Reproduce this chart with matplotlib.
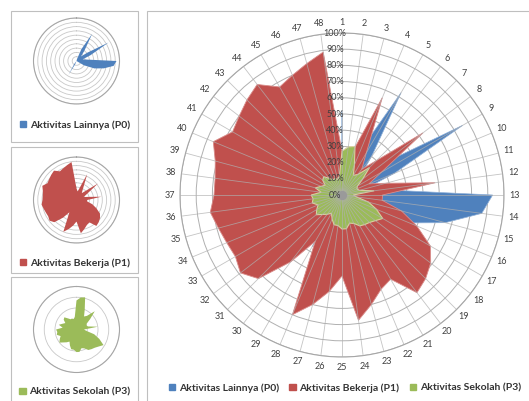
import numpy as np
import matplotlib
matplotlib.use("Agg")
import matplotlib.pyplot as plt
from matplotlib.patches import Patch, Rectangle

plt.rcParams['font.family'] = ['Lato', 'DejaVu Sans']

# 48 categories, values in percent
categories = [str(i) for i in range(1, 49)]

p0_lainnya = [52, 0, 5, 30, 73, 30, 15, 32, 86, 35, 15, 25,
              93, 87, 66, 45, 20, 0, 0, 0, 0, 0, 0, 0,
              0, 0, 0, 8, 37, 8, 0, 0, 0, 0, 0, 0,
              0, 0, 0, 0, 0, 0, 0, 0, 0, 0, 0, 0]

p1_bekerja = [27, 20, 30, 65, 30, 20, 30, 63, 28, 18, 28, 58,
              25, 25, 38, 50, 63, 69, 73, 76, 60, 63, 70, 78,
              50, 60, 70, 80, 33, 52, 73, 79, 76, 77, 79, 82,
              79, 79, 81, 86, 78, 80, 83, 86, 77, 80, 84, 89]

p3_sekolah = [27, 30, 31, 20, 14, 16, 24, 16, 11, 10, 11, 20,
              7, 9, 17, 23, 29, 26, 24, 23, 22, 19, 18, 21,
              21, 19, 19, 16, 13, 15, 17, 20, 18, 16, 19, 18,
              19, 13, 17, 14, 12, 15, 16, 13, 11, 11, 10, 12]

series_names = ['Aktivitas Lainnya (P0)', 'Aktivitas Bekerja (P1)', 'Aktivitas Sekolah (P3)']
series_colors = ['#4F81BD', '#C0504D', '#9BBB59']

W, H = 529, 401
fig = plt.figure(figsize=(W / 100, H / 100), dpi=100)
fig.patch.set_facecolor('white')


def fig_rect(cx, cy, r):
    """axes rect for a circle centred at pixel (cx, cy) with radius r"""
    return [(cx - r) / W, (H - cy - r) / H, 2 * r / W, 2 * r / H]


def box(x0, y0, x1, y1):
    fig.patches.append(Rectangle((x0 / W, 1 - y1 / H), (x1 - x0) / W, (y1 - y0) / H,
                                 transform=fig.transFigure, fill=False,
                                 edgecolor='#BFBFBF', lw=0.8))


n = len(categories)
theta = np.linspace(0, 2 * np.pi, n, endpoint=False)
theta_c = np.append(theta, theta[0])


def closed(vals):
    v = np.array(vals, dtype=float) / 100.0
    return np.append(v, v[0])


def setup_polar(ax, rmax, step):
    ax.set_theta_zero_location('N')
    ax.set_theta_direction(-1)
    ax.set_ylim(0, rmax)
    ax.set_yticks(np.arange(step, rmax + 1e-9, step))
    ax.set_yticklabels([])
    ax.set_xticks([])
    ax.xaxis.grid(False)
    ax.set_axisbelow(True)
    ax.spines['polar'].set_color('#A6A6A6')
    ax.spines['polar'].set_linewidth(0.8)


# panel borders
box(11, 11, 138, 142)
box(11, 147, 138, 273)
box(11, 277, 138, 402)
box(147, 11, 530, 402)

# ---- main radar chart
ax = fig.add_axes(fig_rect(342, 195, 162), projection='polar')
setup_polar(ax, 1.0, 0.1)
ax.yaxis.grid(True, color='#B0B0B0', lw=0.7)

ax.fill(theta_c, closed(p0_lainnya), color=series_colors[0], zorder=2,
        edgecolor='#8FB0D8', lw=0.5)
ax.fill(theta_c, closed(p1_bekerja), color=series_colors[1], zorder=3,
        edgecolor='#D98C8A', lw=0.6)
ax.fill(theta_c, closed(p3_sekolah), color=series_colors[2], zorder=4,
        edgecolor='#D9CFA0', lw=0.8)

# category spokes on top of the fills
for t in theta:
    ax.plot([t, t], [0, 1], color='#B0B0B0', lw=0.6, alpha=0.75, zorder=5)
ax.scatter([0], [0], s=45, color='#9A9A9A', zorder=6, lw=0)

for t, lab in zip(theta, categories):
    ax.text(t, 1.065, lab, ha='center', va='center', fontsize=6.5, color='#404040')

for p in range(0, 101, 10):
    ax.annotate(f'{p}%', xy=(0, p / 100), xytext=(-7, 0), textcoords='offset pixels',
                ha='center', va='center', fontsize=6.5, color='#404040', zorder=10,
                annotation_clip=False)

handles = [Patch(color=c) for c in series_colors]
fig.legend(handles, series_names, loc='center', bbox_to_anchor=(0.652, 0.033),
           ncol=3, frameon=False, prop={'weight': 'bold', 'size': 7.5},
           handlelength=0.6, handleheight=0.6, handletextpad=0.35, columnspacing=1.0,
           labelcolor='#333333')

# ---- thumbnails
thumbs = [
    (p0_lainnya, 61, 125, 1.0),
    (p1_bekerja, 200, 263, 1.0),
    (p3_sekolah, 329.5, 392, 0.4),
]
for k, (vals, cy, ly, rmax) in enumerate(thumbs):
    tax = fig.add_axes(fig_rect(76.5, cy, 43), projection='polar')
    setup_polar(tax, rmax, 0.1)
    tax.yaxis.grid(True, color='#C8C8C8', lw=0.6)
    tax.fill(theta_c, closed(vals), color=series_colors[k], zorder=2, lw=0)
    fig.legend([Patch(color=series_colors[k])], [series_names[k]], loc='center',
               bbox_to_anchor=(75 / W, 1 - ly / H), frameon=False,
               prop={'weight': 'bold', 'size': 7.5},
               handlelength=0.6, handleheight=0.6, handletextpad=0.35,
               labelcolor='#333333')

fig.savefig('out.png', dpi=100, facecolor='white')
